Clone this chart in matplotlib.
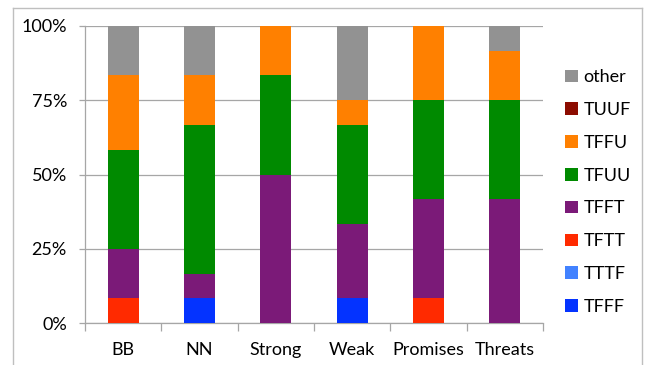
import matplotlib
matplotlib.use("Agg")
import matplotlib.pyplot as plt
from matplotlib.lines import Line2D
import numpy as np

categories = ["BB", "NN", "Strong", "Weak", "Promises", "Threats"]
series_names = ["TFFF", "TTTF", "TFTT", "TFFT", "TFUU", "TFFU", "TUUF", "other"]
u = 100 / 12
TFFF = [0, 1 * u, 0, 1 * u, 0, 0]
TTTF = [0, 0, 0, 0, 0, 0]
TFTT = [1 * u, 0, 0, 0, 1 * u, 0]
TFFT = [2 * u, 1 * u, 6 * u, 3 * u, 4 * u, 5 * u]
TFUU = [4 * u, 6 * u, 4 * u, 4 * u, 4 * u, 4 * u]
TFFU = [3 * u, 2 * u, 2 * u, 1 * u, 3 * u, 2 * u]
TUUF = [0, 0, 0, 0, 0, 0]
other = [2 * u, 2 * u, 0, 3 * u, 0, 1 * u]
series_values = [TFFF, TTTF, TFTT, TFFT, TFUU, TFFU, TUUF, other]
colors = ["#0433FF", "#4282FF", "#FF2A00", "#7B1A78", "#008A00", "#FF8000", "#8C0C00", "#929292"]
yticks = [0, 25, 50, 75, 100]
ytick_labels = ["0%", "25%", "50%", "75%", "100%"]

plt.rcParams['font.family'] = ['Lato', 'DejaVu Sans']
FS = 13

fig = plt.figure(figsize=(6.48, 3.65), dpi=100)
ax = fig.add_axes([85 / 648, 1 - 323 / 365, (543 - 85) / 648, (323 - 26) / 365])

x = np.arange(len(categories))
bottom = np.zeros(len(categories))
handles = []
for name, vals, c in zip(series_names, series_values, colors):
    vals = np.array(vals, dtype=float)
    b = ax.bar(x, vals, 0.41, bottom=bottom, color=c, label=name, zorder=3)
    bottom += vals
    handles.append(b)

ax.set_xlim(-0.5, len(categories) - 0.5)
ax.set_ylim(0, 100)
ax.set_yticks(yticks)
ax.set_yticklabels(ytick_labels, fontsize=FS)
ax.yaxis.grid(True, color="#A6A6A6", linewidth=0.9, zorder=0)
ax.set_axisbelow(True)

ax.set_xticks(np.arange(len(categories) + 1) - 0.5)
ax.set_xticklabels([])
ax.set_xticks(x, minor=True)
ax.set_xticklabels(categories, minor=True, fontsize=FS)
ax.tick_params(axis="x", which="major", length=6, color="#A6A6A6", width=0.9)
ax.tick_params(axis="x", which="minor", length=0, pad=14)
ax.tick_params(axis="y", length=4, color="#A6A6A6", width=0.9, pad=9)

for s in ["top", "right"]:
    ax.spines[s].set_visible(False)
for s in ["left", "bottom"]:
    ax.spines[s].set_color("#A6A6A6")
    ax.spines[s].set_linewidth(0.9)

leg = fig.legend(handles[::-1], series_names[::-1], loc="upper left",
                 bbox_to_anchor=(558 / 648, 1 - 62 / 365), frameon=False,
                 fontsize=FS, handlelength=0.7, handleheight=0.7,
                 labelspacing=0.93, handletextpad=0.3, borderaxespad=0)

# outer chart border
bc = "#BFBFBF"
fig.add_artist(Line2D([13 / 648, 13 / 648], [0, 1 - 8 / 365], color=bc, lw=1, transform=fig.transFigure))
fig.add_artist(Line2D([13 / 648, 642 / 648], [1 - 8 / 365, 1 - 8 / 365], color=bc, lw=1, transform=fig.transFigure))
fig.add_artist(Line2D([642 / 648, 642 / 648], [0, 1 - 8 / 365], color=bc, lw=1, transform=fig.transFigure))

fig.savefig("out.png", dpi=100)
